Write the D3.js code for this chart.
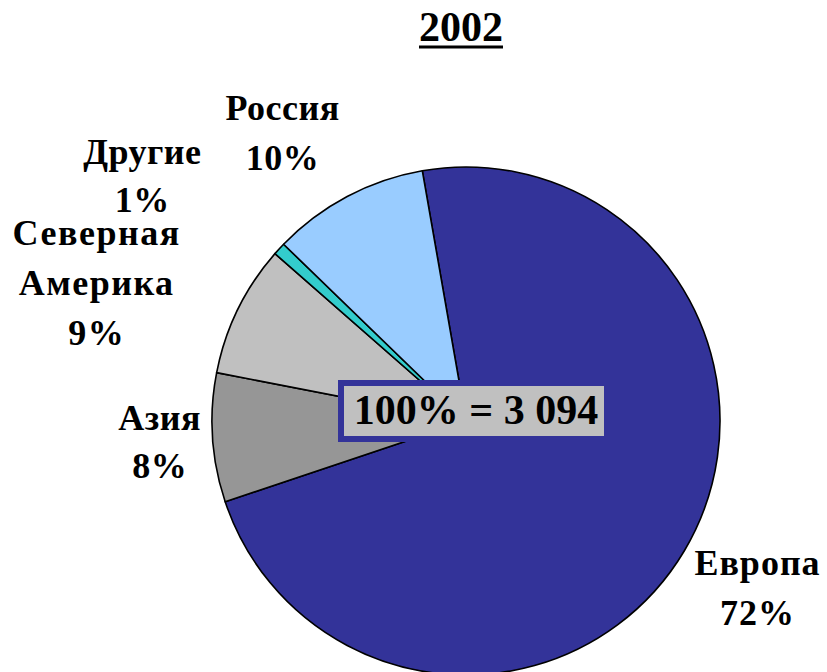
<!DOCTYPE html>
<html><head><meta charset="utf-8">
<script src="https://cdn.jsdelivr.net/npm/d3@7"></script>
<style>html,body{margin:0;padding:0;background:#fff;}</style>
</head><body>
<svg id="c" width="827" height="672"></svg>
<script>
const categories = ["Европа", "Азия", "Северная Америка", "Другие", "Россия"];
const labelLines = [["Европа"], ["Азия"], ["Северная", "Америка"], ["Другие"], ["Россия"]];
const values = [72.6, 8.2, 8.4, 0.8, 10.0];
const percentLabels = ["72%", "8%", "9%", "1%", "10%"];
const colors = ["#333399", "#969696", "#C0C0C0", "#33CCCC", "#99CCFF"];
const title = "2002";
const totalLabel = "100% = 3 094";

const svg = d3.select("#c");
const cx = 466, cy = 421, R = 254;
const font = "Liberation Serif";

// title
const t = svg.append("text").attr("x", 461).attr("y", 41).attr("text-anchor", "middle")
  .attr("font-family", font).attr("font-weight", "bold").attr("font-size", 42).text(title);
const tb = t.node().getBBox();
svg.append("rect").attr("x", tb.x).attr("y", 45.5).attr("width", tb.width).attr("height", 3).attr("fill", "#000");

const start = -9.9 * Math.PI / 180;
const pie = d3.pie().sort(null).value(d => d).startAngle(start).endAngle(start + 2 * Math.PI);
const arcs = pie(values);
const arc = d3.arc().innerRadius(0).outerRadius(R);
const g = svg.append("g").attr("transform", `translate(${cx},${cy})`);
g.selectAll("path").data(arcs).join("path")
  .attr("d", arc).attr("fill", (d, i) => colors[i])
  .attr("stroke", "#000").attr("stroke-width", 1.6).attr("stroke-linejoin", "round");

// labels
const labelArc = d3.arc().innerRadius(330).outerRadius(330);
const nudges = [[8, -15], [23, -13], [-73, -31], [-81, -33], [-29, -9]];
const lhs = [50, 48, 50, 48, 50];
const spacing = [1, 0.5, 1.5, 0.5, 0.5];
arcs.forEach((d, i) => {
  const [x, y] = labelArc.centroid(d);
  const lx = cx + x + nudges[i][0], ly = cy + y + nudges[i][1];
  const lines = labelLines[i].concat([percentLabels[i]]);
  const tx = svg.append("text").attr("text-anchor", "middle")
    .attr("font-family", font).attr("font-weight", "bold").attr("font-size", 36)
    .attr("letter-spacing", spacing[i]).attr("fill", "#000");
  lines.forEach((s, k) => {
    tx.append("tspan").attr("x", lx).attr("y", ly + k * lhs[i]).text(s);
  });
});

// total box
svg.append("rect").attr("x", 341).attr("y", 383).attr("width", 266).attr("height", 56)
  .attr("fill", "#C0C0C0").attr("stroke", "#333399").attr("stroke-width", 6);
svg.append("text").attr("x", 476).attr("y", 424).attr("text-anchor", "middle")
  .attr("font-family", font).attr("font-weight", "bold").attr("font-size", 42).text(totalLabel);
</script>
</body></html>
